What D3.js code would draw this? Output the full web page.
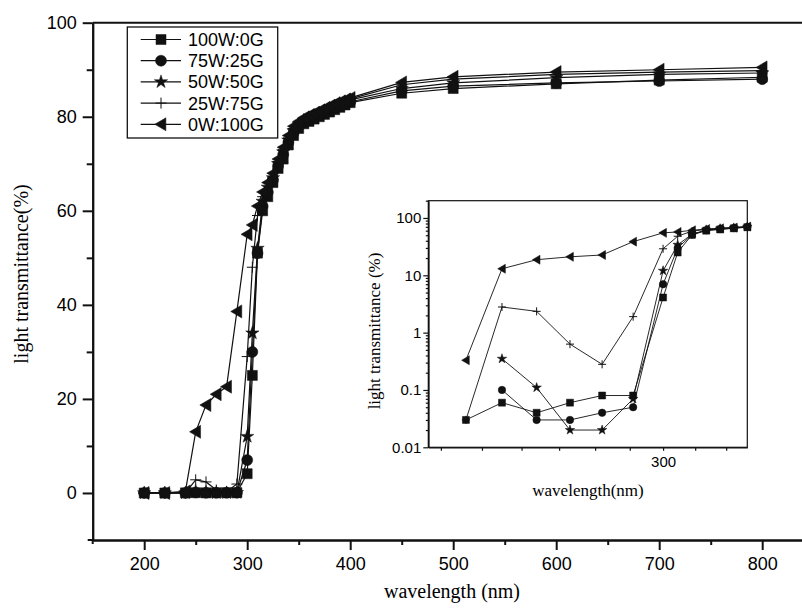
<!DOCTYPE html>
<html>
<head>
<meta charset="utf-8">
<script src="https://cdn.jsdelivr.net/npm/d3@7"></script>
<style>
  body { margin: 0; background: #fff; }
  text { fill: #000; }
</style>
</head>
<body>
<div id="chart"></div>
<script>
// wavelength (nm) of every measured point
var wavelength = [200, 220, 240, 250, 260, 270, 280, 290, 300, 305, 310, 315, 320, 325, 330,
  335, 340, 345, 350, 355, 360, 365, 370, 375, 380, 385, 390, 395, 400, 450, 500, 600, 700, 800];

// light transmittance (%) per sample
var t100W0G = [0, 0, 0.03, 0.06, 0.04, 0.06, 0.08, 0.08, 4.1, 25, 51, 60, 63, 66, 69,
  71, 74, 76, 77.5, 78.5, 79, 79.5, 80, 80.5, 81, 81.5, 82, 82.5, 83, 85, 86, 87, 87.8, 88.4];
var t75W25G = [0, 0, 0, 0.1, 0.03, 0.03, 0.04, 0.05, 7, 30, 51, 61, 64, 66.5, 69.5,
  72, 74.5, 76.5, 78, 79, 79.5, 80, 80.5, 81, 81.5, 82, 82.5, 82.8, 83.2, 85.5, 86.5, 87.2, 87.6, 88];
var t50W50G = [0, 0, 0, 0.35, 0.11, 0.02, 0.02, 0.07, 12, 34, 52, 62, 65, 67, 70,
  72.5, 75, 77, 78.3, 79.2, 79.8, 80.3, 80.8, 81.3, 81.8, 82.3, 82.8, 83.2, 83.6, 86, 87.2, 88.3, 89, 89.3];
var t25W75G = [0, 0, 0.03, 2.8, 2.35, 0.63, 0.28, 1.9, 29, 48, 59, 63, 66, 68, 70.5,
  73, 75.5, 77.5, 78.6, 79.5, 80, 80.5, 81, 81.5, 82, 82.5, 83, 83.4, 83.8, 86.8, 88, 89, 89.5, 89.8];
var t0W100G = [0, 0, 0.33, 13, 18.7, 21, 22.6, 38.6, 55, 57, 61, 64, 66, 68, 71,
  73.5, 76, 78, 79, 79.8, 80.3, 80.8, 81.3, 81.8, 82.3, 82.8, 83.2, 83.6, 84, 87.3, 88.5, 89.5, 90, 90.5];

var seriesNames = ["100W:0G", "75W:25G", "50W:50G", "25W:75G", "0W:100G"];
var seriesMarks = ["square", "circle", "star", "plus", "triangle"];
var seriesValues = [t100W0G, t75W25G, t50W50G, t25W75G, t0W100G];

// tick labels
var xTicks = [200, 300, 400, 500, 600, 700, 800];
var xMinor = [250, 350, 450, 550, 650, 750];
var yTicks = [0, 20, 40, 60, 80, 100];
var yMinor = [10, 30, 50, 70, 90];
var insetYTicks = [0.01, 0.1, 1, 10, 100];
var insetXTicks = [233.3, 244.4, 255.6, 266.7, 277.8, 288.9, 300, 311.1, 322.2];
var insetXLabels = [300];

var width = 802, height = 609;
var svg = d3.select("#chart").append("svg")
  .attr("width", width)
  .attr("height", height);

// marker shapes, s = nominal size in px
function markPath(type, s) {
  var h = s / 2;
  if (type == "square") return "M" + (-h) + "," + (-h) + "h" + s + "v" + s + "h" + (-s) + "Z";
  if (type == "circle") return d3.symbol(d3.symbolCircle, Math.PI * h * h)();
  if (type == "star") return d3.symbol(d3.symbolStar, (h * h) / 0.8908130915292852)();
  if (type == "plus") return "M" + (-h) + ",0H" + h + "M0," + (-h) + "V" + h;
  // triangle pointing left
  return "M" + (-h * 0.95) + ",0L" + (h * 0.75) + "," + (-h) + "L" + (h * 0.75) + "," + h + "Z";
}
var mainSize = {square: 10, circle: 11, star: 14, plus: 11, triangle: 13};
var insetSize = {square: 7, circle: 7.5, star: 10, plus: 8, triangle: 9};

function drawMarks(g, pts, type, size, xs, ys) {
  g.selectAll(null)
    .data(pts)
    .enter().append("path")
    .attr("transform", function(d) { return "translate(" + xs(d[0]) + "," + ys(d[1]) + ")"; })
    .attr("d", markPath(type, size))
    .attr("fill", type == "plus" ? "none" : "#111")
    .attr("stroke", "#111")
    .attr("stroke-width", type == "plus" ? 1 : 0.5);
}

// ---------- main chart ----------
var x = d3.scaleLinear().domain([150, 850]).range([92.7, 813.7]);
var y = d3.scaleLinear().domain([-10, 100]).range([540, 22.7]);

var mainG = svg.append("g");

seriesValues.forEach(function(vals, i) {
  var pts = wavelength.map(function(w, j) { return [w, vals[j]]; });
  mainG.append("path")
    .datum(pts)
    .attr("fill", "none")
    .attr("stroke", "#111")
    .attr("stroke-width", 1.2)
    .attr("d", d3.line().x(function(d) { return x(d[0]); }).y(function(d) { return y(d[1]); }));
  drawMarks(mainG, pts, seriesMarks[i], mainSize[seriesMarks[i]], x, y);
});

// axes
svg.append("g")
  .attr("transform", "translate(0,540)")
  .call(d3.axisBottom(x).tickValues(xTicks).tickSize(10).tickPadding(7).tickSizeOuter(0));
svg.append("g")
  .attr("transform", "translate(0,540)")
  .call(d3.axisBottom(x).tickValues(xMinor).tickSize(5).tickFormat("").tickSizeOuter(0));
svg.append("g")
  .attr("transform", "translate(92.7,0)")
  .call(d3.axisLeft(y).tickValues(yTicks).tickSize(10).tickPadding(6).tickSizeOuter(0));
svg.append("g")
  .attr("transform", "translate(92.7,0)")
  .call(d3.axisLeft(y).tickValues(yMinor).tickSize(6).tickFormat("").tickSizeOuter(0));

svg.selectAll(".domain").attr("stroke", "#111").attr("stroke-width", 2);
svg.selectAll(".tick line").attr("stroke", "#111").attr("stroke-width", 2);
svg.selectAll(".tick text")
  .attr("font-family", "Liberation Sans, Arial, sans-serif")
  .attr("font-size", 18);

// axis lines cross slightly at the corner, Origin style
svg.append("line")
  .attr("x1", x(150) - 5).attr("x2", x(150))
  .attr("y1", y(-10)).attr("y2", y(-10))
  .attr("stroke", "#111").attr("stroke-width", 2);
svg.append("line")
  .attr("x1", x(150)).attr("x2", x(150))
  .attr("y1", y(-10)).attr("y2", y(-10) + 4)
  .attr("stroke", "#111").attr("stroke-width", 2);

// top and right frame lines
svg.append("line")
  .attr("x1", x(150)).attr("x2", x(850))
  .attr("y1", y(100)).attr("y2", y(100))
  .attr("stroke", "#111").attr("stroke-width", 2);
svg.append("line")
  .attr("x1", x(850)).attr("x2", x(850))
  .attr("y1", y(100)).attr("y2", y(-10))
  .attr("stroke", "#111").attr("stroke-width", 2);

// axis titles
svg.append("text")
  .attr("x", 452).attr("y", 598)
  .attr("text-anchor", "middle")
  .attr("font-family", "Liberation Serif, Times New Roman, serif")
  .attr("font-size", 20)
  .text("wavelength (nm)");
svg.append("text")
  .attr("transform", "translate(28,274) rotate(-90)")
  .attr("text-anchor", "middle")
  .attr("font-family", "Liberation Serif, Times New Roman, serif")
  .attr("font-size", 20)
  .text("light transmittance(%)");

// legend
var legend = svg.append("g");
legend.append("rect")
  .attr("x", 127.3).attr("y", 27)
  .attr("width", 150.4).attr("height", 111)
  .attr("fill", "#fff").attr("stroke", "#111").attr("stroke-width", 1.3);
seriesNames.forEach(function(name, i) {
  var ly = 39.5 + i * 21.2;
  legend.append("line")
    .attr("x1", 140.7).attr("x2", 181)
    .attr("y1", ly).attr("y2", ly)
    .attr("stroke", "#111").attr("stroke-width", 1.2);
  drawMarks(legend, [[0, 0]], seriesMarks[i], mainSize[seriesMarks[i]],
    function() { return 161; }, function() { return ly; });
  legend.append("text")
    .attr("x", 188).attr("y", ly)
    .attr("dy", "0.36em")
    .attr("font-family", "Liberation Sans, Arial, sans-serif")
    .attr("font-size", 18)
    .text(name);
});

// ---------- inset ----------
var xi = d3.scaleLog().domain([230, 330]).range([428.3, 747.3]);
var yi = d3.scaleLog().domain([0.01, 200]).range([447.3, 200.7]);

var inset = svg.append("g");
inset.append("rect")
  .attr("x", 428.3).attr("y", 200.7)
  .attr("width", 747.3 - 428.3).attr("height", 447.3 - 200.7)
  .attr("fill", "#fff");

seriesValues.forEach(function(vals, i) {
  // zero readings cannot sit on the log axis
  var pts = wavelength.map(function(w, j) { return [w, vals[j]]; })
    .filter(function(d) { return d[0] >= 230 && d[0] <= 330 && d[1] > 0; });
  inset.append("path")
    .datum(pts)
    .attr("fill", "none")
    .attr("stroke", "#111")
    .attr("stroke-width", 0.9)
    .attr("d", d3.line().x(function(d) { return xi(d[0]); }).y(function(d) { return yi(d[1]); }));
  drawMarks(inset, pts, seriesMarks[i], insetSize[seriesMarks[i]], xi, yi);
});

inset.append("rect")
  .attr("x", 428.3).attr("y", 200.7)
  .attr("width", 747.3 - 428.3).attr("height", 447.3 - 200.7)
  .attr("fill", "none").attr("stroke", "#111").attr("stroke-width", 1.2);

// inset log y minor ticks
var insetYMinor = [];
insetYTicks.forEach(function(t) {
  for (var k = 2; k <= 9; k++) if (t * k <= 200) insetYMinor.push(t * k);
});
inset.append("g")
  .attr("transform", "translate(428.3,0)")
  .call(d3.axisLeft(yi).tickValues(insetYTicks).tickSize(5).tickPadding(2)
    .tickFormat(function(d) { return d >= 1 ? d3.format("d")(d) : String(d); }).tickSizeOuter(0));
inset.append("g")
  .attr("transform", "translate(428.3,0)")
  .call(d3.axisLeft(yi).tickValues(insetYMinor).tickSize(2.5).tickFormat("").tickSizeOuter(0));
inset.append("g")
  .attr("transform", "translate(0,447.3)")
  .call(d3.axisBottom(xi).tickValues(insetXTicks).tickSize(3.5).tickPadding(6)
    .tickFormat(function(d) { return insetXLabels.indexOf(d) >= 0 ? d : ""; }).tickSizeOuter(0));

inset.selectAll(".domain").attr("stroke", "#111").attr("stroke-width", 1.2);
inset.selectAll(".tick line").attr("stroke", "#111").attr("stroke-width", 1.2);
inset.selectAll(".tick text")
  .attr("font-family", "Liberation Sans, Arial, sans-serif")
  .attr("font-size", 15);

inset.append("text")
  .attr("x", 588).attr("y", 496)
  .attr("text-anchor", "middle")
  .attr("font-family", "Liberation Serif, Times New Roman, serif")
  .attr("font-size", 17)
  .text("wavelength(nm)");
inset.append("text")
  .attr("transform", "translate(380,331) rotate(-90)")
  .attr("text-anchor", "middle")
  .attr("font-family", "Liberation Serif, Times New Roman, serif")
  .attr("font-size", 17)
  .text("light transmittance (%)");
</script>
</body>
</html>
